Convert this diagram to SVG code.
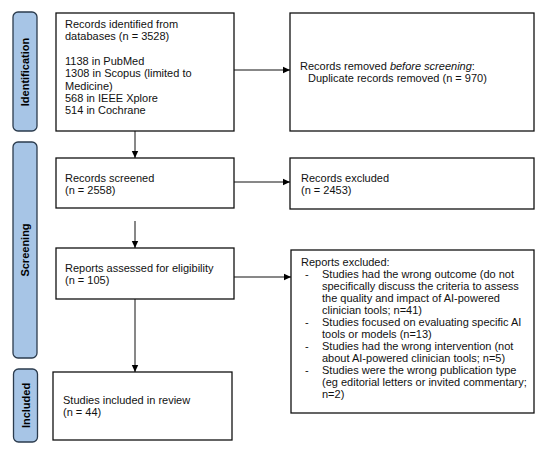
<svg xmlns="http://www.w3.org/2000/svg" width="544" height="453" viewBox="0 0 544 453">
<defs>
<marker id="ah" markerWidth="8" markerHeight="8" refX="7" refY="4" orient="auto" markerUnits="userSpaceOnUse">
<path d="M0,0.8 L7,4 L0,7.2 Z" fill="#000"/>
</marker>
<style>
.bar{fill:#a7c5e6;stroke:#2b3b4d;stroke-width:1.3}
.box{fill:#fff;stroke:#111;stroke-width:1.3}
.lbl{font-family:"Liberation Sans",Arial,sans-serif;font-size:11px;font-weight:bold;fill:#000}
.t{font-family:"Liberation Sans",Arial,sans-serif;font-size:11px;fill:#111}
.c{stroke:#111;stroke-width:1;fill:none;marker-end:url(#ah)}
</style>
</defs>
<rect width="544" height="453" fill="#fff"/>
<g id="phase-identification">
<rect class="bar" x="13" y="12" width="24" height="119" rx="5"/>
<text class="lbl" transform="translate(29,72) rotate(-90)" text-anchor="middle">Identification</text>
</g>
<g id="phase-screening">
<rect class="bar" x="13" y="142" width="24" height="216" rx="5"/>
<text class="lbl" transform="translate(29,250) rotate(-90)" text-anchor="middle">Screening</text>
</g>
<g id="phase-included">
<rect class="bar" x="13.5" y="369" width="24" height="73" rx="5"/>
<text class="lbl" transform="translate(29.5,405.5) rotate(-90)" text-anchor="middle">Included</text>
</g>
<g id="identified">
<rect class="box" x="56" y="13" width="178" height="118"/>
<text class="t" x="65" y="28">Records identified from</text>
<text class="t" x="65" y="40.3">databases (n = 3528)</text>
<text class="t" x="65" y="64.9">1138 in PubMed</text>
<text class="t" x="65" y="77.2">1308 in Scopus (limited to</text>
<text class="t" x="65" y="89.5">Medicine)</text>
<text class="t" x="65" y="101.8">568 in IEEE Xplore</text>
<text class="t" x="65" y="114.1">514 in Cochrane</text>
</g>
<g id="removed">
<rect class="box" x="290" y="13" width="244" height="118"/>
<text class="t" x="300" y="70">Records removed <tspan font-style="italic">before screening</tspan>:</text>
<text class="t" x="308" y="82">Duplicate records removed (n = 970)</text>
</g>
<g id="screened">
<rect class="box" x="56" y="158" width="178" height="50"/>
<text class="t" x="65" y="182">Records screened</text>
<text class="t" x="65" y="194">(n = 2558)</text>
</g>
<g id="excluded">
<rect class="box" x="290" y="158" width="244" height="51"/>
<text class="t" x="301" y="182">Records excluded</text>
<text class="t" x="301" y="194">(n = 2453)</text>
</g>
<g id="assessed">
<rect class="box" x="56" y="248" width="178" height="51"/>
<text class="t" x="65" y="272">Reports assessed for eligibility</text>
<text class="t" x="65" y="284">(n = 105)</text>
</g>
<g id="reports-excluded">
<rect class="box" x="291" y="250" width="243" height="163"/>
<text class="t" x="301" y="266">Reports excluded:</text>
<text class="t" x="305" y="278">-</text>
<text class="t" x="322" y="278">Studies had the wrong outcome (do not</text>
<text class="t" x="322" y="290">specifically discuss the criteria to assess</text>
<text class="t" x="322" y="302">the quality and impact of AI-powered</text>
<text class="t" x="322" y="314">clinician tools; n=41)</text>
<text class="t" x="305" y="326">-</text>
<text class="t" x="322" y="326">Studies focused on evaluating specific AI</text>
<text class="t" x="322" y="338">tools or models (n=13)</text>
<text class="t" x="305" y="350">-</text>
<text class="t" x="322" y="350">Studies had the wrong intervention (not</text>
<text class="t" x="322" y="362">about AI-powered clinician tools; n=5)</text>
<text class="t" x="305" y="373.5">-</text>
<text class="t" x="322" y="373.5">Studies were the wrong publication type</text>
<text class="t" x="322" y="385.5">(eg editorial letters or invited commentary;</text>
<text class="t" x="322" y="397.5">n=2)</text>
</g>
<g id="included">
<rect class="box" x="53" y="372" width="179" height="68"/>
<text class="t" x="63" y="404">Studies included in review</text>
<text class="t" x="63" y="416">(n = 44)</text>
</g>
<g id="connectors">
<line class="c" x1="234" y1="70" x2="290" y2="70"/>
<line class="c" x1="135" y1="131" x2="135" y2="158"/>
<line class="c" x1="234" y1="182" x2="290" y2="182"/>
<line class="c" x1="135" y1="221" x2="135" y2="248"/>
<line class="c" x1="234" y1="277" x2="291" y2="277"/>
<line class="c" x1="135" y1="299" x2="135" y2="372"/>
</g>
</svg>
